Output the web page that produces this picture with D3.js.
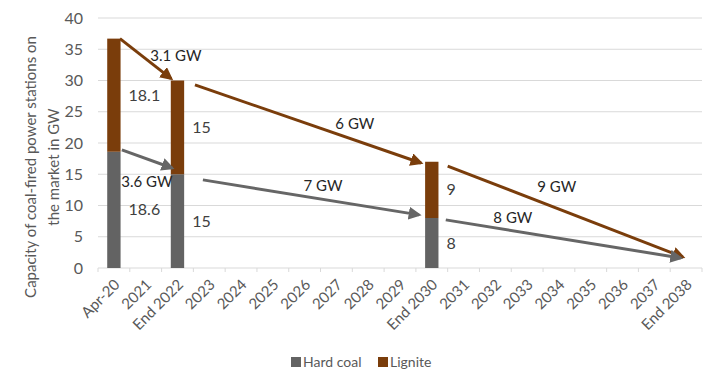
<!DOCTYPE html>
<html>
<head>
<meta charset="utf-8">
<script src="https://cdn.jsdelivr.net/npm/d3@7"></script>
<style>
  body { margin: 0; background: #fff; }
  text { font-family: Lato, "Open Sans", sans-serif; }
</style>
</head>
<body>
<div id="wrapper"></div>
<script>
const categories = ["Apr-20", "2021", "End 2022", "2023", "2024", "2025", "2026", "2027", "2028", "2029",
  "End 2030", "2031", "2032", "2033", "2034", "2035", "2036", "2037", "End 2038"];
const barCategories = ["Apr-20", "End 2022", "End 2030"];
const hardCoal = [18.6, 15, 8];
const lignite = [18.1, 15, 9];
const yTicks = [0, 5, 10, 15, 20, 25, 30, 35, 40];

// arrows between the bars: [category index, GW]
const arrowSeries = ["Lignite", "Hard coal", "Lignite", "Hard coal", "Lignite", "Hard coal"];
const arrowFrom = [[0.19, 36.7], [0.25, 18.9], [2.55, 29.3], [2.8, 14.1], [10.5, 16.3], [10.44, 7.7]];
const arrowTo = [[1.8, 30.3], [1.83, 16.0], [9.66, 16.8], [9.6, 8.5], [17.9, 1.75], [17.83, 1.6]];
const arrowLabels = ["3.1 GW", "3.6 GW", "6 GW", "7 GW", "9 GW", "8 GW"];
const arrowLabelAt = [[1.95, 34.0], [1.04, 13.8], [7.58, 23.1], [6.58, 13.1], [13.93, 13.0], [12.55, 8.0]];

const width = 720, height = 384;
const margin = { top: 18, right: 18, bottom: 116, left: 98 };

const colors = { "Hard coal": "#636363", "Lignite": "#7a3d0b" };
const arrowColors = { "Hard coal": "#666666", "Lignite": "#7a3d0b" };

const svg = d3.select("#wrapper").append("svg")
  .attr("width", width)
  .attr("height", height);

const x = d3.scaleBand()
  .domain(categories)
  .range([margin.left, width - margin.right])
  .paddingInner(0.58)
  .paddingOuter(0.29);

// same positions, but continuous, for the arrows
const xi = d3.scaleLinear()
  .domain([-0.5, categories.length - 0.5])
  .range([margin.left, width - margin.right]);

const y = d3.scaleLinear()
  .domain([0, 40])
  .range([height - margin.bottom, margin.top]);

// gridlines
svg.append("g")
  .selectAll("line")
  .data(yTicks.slice(1))
  .join("line")
  .attr("x1", margin.left)
  .attr("x2", width - margin.right)
  .attr("y1", d => y(d))
  .attr("y2", d => y(d))
  .attr("stroke", "#d9d9d9")
  .attr("stroke-width", 1);

// y axis labels
svg.append("g")
  .selectAll("text")
  .data(yTicks)
  .join("text")
  .attr("x", margin.left - 15)
  .attr("y", d => y(d))
  .attr("dy", "0.35em")
  .attr("text-anchor", "end")
  .attr("fill", "#595959")
  .style("font-size", "16px")
  .text(d => d);

// x axis line + ticks between categories
const xAxis = svg.append("g");
xAxis.append("line")
  .attr("x1", margin.left)
  .attr("x2", width - margin.right)
  .attr("y1", y(0))
  .attr("y2", y(0))
  .attr("stroke", "#d9d9d9");
xAxis.selectAll(".tick")
  .data(d3.range(categories.length + 1))
  .join("line")
  .attr("x1", d => margin.left + d * x.step())
  .attr("x2", d => margin.left + d * x.step())
  .attr("y1", y(0))
  .attr("y2", y(0) + 4)
  .attr("stroke", "#d9d9d9");

xAxis.selectAll("text")
  .data(categories)
  .join("text")
  .attr("transform", d => `translate(${x(d) + x.bandwidth() / 2 + 3},${y(0) + 14}) rotate(-45)`)
  .attr("text-anchor", "end")
  .attr("dy", "0.35em")
  .attr("fill", "#595959")
  .style("font-size", "15px")
  .text(d => d);

// stacked bars
const stackData = barCategories.map((c, i) => ({ cat: c, "Hard coal": hardCoal[i], "Lignite": lignite[i] }));
const series = d3.stack().keys(["Hard coal", "Lignite"])(stackData);

const layer = svg.append("g")
  .selectAll("g")
  .data(series)
  .join("g")
  .attr("fill", d => colors[d.key]);

layer.selectAll("rect")
  .data(d => d)
  .join("rect")
  .attr("x", d => x(d.data.cat))
  .attr("width", x.bandwidth())
  .attr("y", d => y(d[1]))
  .attr("height", d => y(d[0]) - y(d[1]));

// bar value labels
layer.selectAll("text")
  .data(d => d.map(v => ({ v, key: d.key })))
  .join("text")
  .attr("x", d => x(d.v.data.cat) + x.bandwidth() + 8)
  .attr("y", d => y((d.v[0] + d.v[1]) / 2))
  .attr("dy", "0.35em")
  .attr("fill", "#404040")
  .style("font-size", "16px")
  .text(d => d.v.data[d.key]);

// arrow markers
const defs = svg.append("defs");
defs.selectAll("marker")
  .data(["Hard coal", "Lignite"])
  .join("marker")
  .attr("id", (d, i) => `arrow-${i}`)
  .attr("viewBox", "0 -5 10 10")
  .attr("refX", 8)
  .attr("refY", 0)
  .attr("markerUnits", "userSpaceOnUse")
  .attr("markerWidth", 13)
  .attr("markerHeight", 13)
  .attr("orient", "auto")
  .append("path")
  .attr("fill", d => arrowColors[d])
  .attr("d", "M0,-5L10,0L0,5Z");

const arrows = arrowSeries.map((s, i) => ({
  s, from: arrowFrom[i], to: arrowTo[i], label: arrowLabels[i], at: arrowLabelAt[i]
}));

svg.append("g")
  .selectAll("line")
  .data(arrows)
  .join("line")
  .attr("x1", d => xi(d.from[0]))
  .attr("y1", d => y(d.from[1]))
  .attr("x2", d => xi(d.to[0]))
  .attr("y2", d => y(d.to[1]))
  .attr("stroke", d => arrowColors[d.s])
  .attr("stroke-width", 3)
  .attr("marker-end", d => `url(#arrow-${d.s === "Hard coal" ? 0 : 1})`);

svg.append("g")
  .selectAll("text")
  .data(arrows)
  .join("text")
  .attr("x", d => xi(d.at[0]))
  .attr("y", d => y(d.at[1]))
  .attr("dy", "0.35em")
  .attr("text-anchor", "middle")
  .attr("fill", "#262626")
  .style("font-size", "15px")
  .text(d => d.label);

// y axis title
svg.append("text")
  .attr("transform", `translate(31,167) rotate(-90)`)
  .attr("text-anchor", "middle")
  .attr("fill", "#595959")
  .style("font-size", "15px")
  .selectAll("tspan")
  .data(["Capacity of coal-fired power stations on", "the market in GW"])
  .join("tspan")
  .attr("x", 0)
  .attr("dy", (d, i) => i === 0 ? "0.35em" : "1.5em")
  .text(d => d);

// legend
const legend = svg.append("g")
  .selectAll("g")
  .data(["Hard coal", "Lignite"])
  .join("g")
  .attr("transform", (d, i) => `translate(${i === 0 ? 291 : 378},357)`);
legend.append("rect")
  .attr("width", 10)
  .attr("height", 10)
  .attr("fill", d => colors[d]);
legend.append("text")
  .attr("x", 12)
  .attr("y", 5)
  .attr("dy", "0.35em")
  .attr("fill", "#595959")
  .style("font-size", "14px")
  .text(d => d);
</script>
</body>
</html>
